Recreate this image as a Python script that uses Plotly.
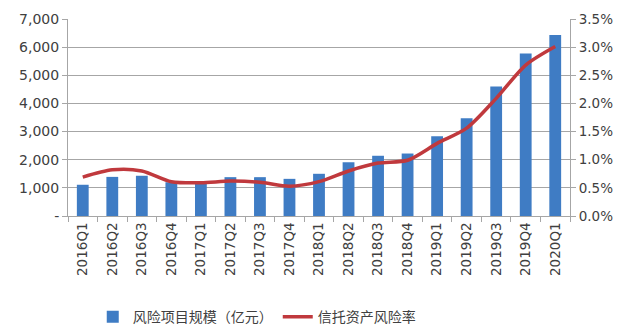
import plotly.graph_objects as go

quarters = ["2016Q1", "2016Q2", "2016Q3", "2016Q4", "2017Q1", "2017Q2", "2017Q3", "2017Q4",
            "2018Q1", "2018Q2", "2018Q3", "2018Q4", "2019Q1", "2019Q2", "2019Q3", "2019Q4", "2020Q1"]
risk_scale = [1110, 1390, 1430, 1200, 1150, 1380, 1380, 1320,
              1500, 1910, 2140, 2220, 2830, 3470, 4600, 5770, 6430]
risk_rate = [0.69, 0.82, 0.80, 0.61, 0.59, 0.62, 0.60, 0.53,
             0.61, 0.80, 0.94, 0.99, 1.29, 1.56, 2.09, 2.68, 3.01]

left_ticks = [0, 1000, 2000, 3000, 4000, 5000, 6000, 7000]
left_labels = ["-", "1,000", "2,000", "3,000", "4,000", "5,000", "6,000", "7,000"]
right_ticks = [0, 0.5, 1.0, 1.5, 2.0, 2.5, 3.0, 3.5]
right_labels = [f"{v:.1f}%" for v in right_ticks]

FONT = "DejaVu Sans"
TXT = "#404040"
GRID = "#a6a6a6"

fig = go.Figure()
fig.add_trace(go.Bar(
    x=quarters, y=risk_scale, name="风险项目规模（亿元）",
    marker=dict(color="#3f7cc4", line=dict(width=0)), width=0.4,
))
fig.add_trace(go.Scatter(
    x=quarters, y=risk_rate, name="信托资产风险率", yaxis="y2",
    mode="lines", line=dict(color="#c0393d", width=3.5, shape="spline", smoothing=0.8),
))

fig.update_layout(
    width=640, height=330,
    margin=dict(l=68, r=70, t=19, b=114, autoexpand=False),
    paper_bgcolor="white", plot_bgcolor="white",
    font=dict(family=FONT, size=13, color=TXT),
    showlegend=True,
    legend=dict(orientation="h", x=0.376, xanchor="center", y=-0.513, yanchor="middle",
                font=dict(family="Noto Sans CJK SC", size=14, color=TXT),
                itemwidth=30, tracegroupgap=0),
    xaxis=dict(
        type="category", tickangle=-90, tickson="boundaries",
        ticks="outside", ticklen=5, tickcolor=GRID,
        showline=True, linecolor=GRID, linewidth=1, automargin=False,
        showgrid=False, tickfont=dict(size=13.5, color=TXT),
    ),
    yaxis=dict(
        range=[0, 7000], tickvals=left_ticks, ticktext=left_labels,
        showgrid=True, gridcolor=GRID, gridwidth=1,
        ticks="outside", ticklen=5, tickcolor=GRID,
        showline=True, linecolor=GRID, linewidth=1, automargin=False,
        zeroline=False, tickfont=dict(size=14, color=TXT),
    ),
    yaxis2=dict(
        overlaying="y", side="right", range=[0, 3.5],
        tickvals=right_ticks, ticktext=right_labels,
        showgrid=False, ticks="outside", ticklen=5, tickcolor=GRID,
        showline=True, linecolor=GRID, linewidth=1, automargin=False,
        zeroline=False, tickfont=dict(size=13.5, color=TXT),
    ),
)

fig.write_html("out.html")
